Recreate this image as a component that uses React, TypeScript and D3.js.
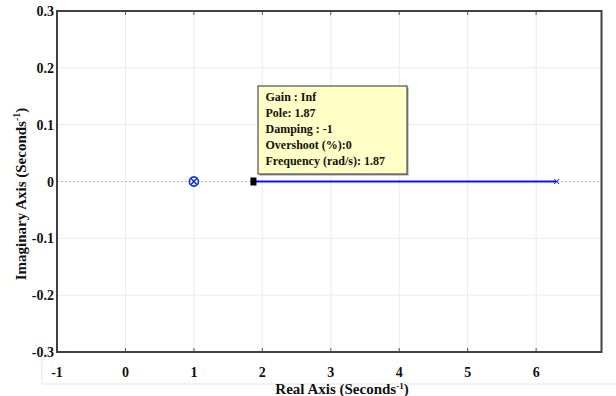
import React from "react";
import * as d3 from "d3";

const xTicks = [-1, 0, 1, 2, 3, 4, 5, 6];
const yTicks = [0.3, 0.2, 0.1, 0, -0.1, -0.2, -0.3];
const locusReal = [1.87, 6.3];
const locusImag = [0, 0];
const poleZeroReal = [1];
const poleReal = [6.3];
const selectedPole = 1.87;
const tipLines = [
  "Gain : Inf",
  "Pole: 1.87",
  "Damping : -1",
  "Overshoot (%):0",
  "Frequency (rad/s): 1.87",
];

const W = 616, H = 396;
const L = 57, R = 601.5, T = 11, B = 352;

export default function App() {
  const x = d3.scaleLinear().domain([-1, 6.955]).range([L, R]);
  const y = d3.scaleLinear().domain([-0.3, 0.3]).range([B, T]);
  const font = "'Liberation Serif', 'Times New Roman', serif";
  const line = d3.line<number>().x((d) => x(d)).y((_, i) => y(locusImag[i]));
  const tx = 258, ty = 86, tw = 149, th = 88;
  return (
    <svg width={W} height={H} style={{ position: "absolute", left: 0, top: 0, background: "#fff" }}>
      <rect x={0} y={0} width={W} height={H} fill="#fff" />
      {/* faint screenshot lines */}
      <line x1={42} x2={42} y1={355} y2={384} stroke="#e4e4e4" />
      <line x1={42} x2={616} y1={384} y2={384} stroke="#e4e4e4" />
      {/* grid */}
      {xTicks.slice(1).map((t) => (
        <line key={"gx" + t} x1={x(t)} x2={x(t)} y1={T} y2={B} stroke="#ebebeb" strokeWidth={1} />
      ))}
      {yTicks.filter((t) => t !== 0.3 && t !== -0.3).map((t) => (
        <line key={"gy" + t} x1={L} x2={R} y1={y(t)} y2={y(t)} stroke={t === 0 ? "#b8b8b8" : "#ebebeb"} strokeWidth={1} strokeDasharray={t === 0 ? "2,2" : undefined} />
      ))}
      {/* ticks */}
      {xTicks.slice(1).map((t) => (
        <g key={"tx" + t}>
          <line x1={x(t)} x2={x(t)} y1={B} y2={B - 4} stroke="#555" />
          <line x1={x(t)} x2={x(t)} y1={T} y2={T + 4} stroke="#555" />
        </g>
      ))}
      {/* locus */}
      <path d={line(locusReal) || ""} fill="none" stroke="#0a14f0" strokeWidth={2.2} />
      {poleReal.map((p) => (
        <g key={"p" + p} stroke="#0a14f0" strokeWidth={1}>
          <line x1={x(p) - 2.5} x2={x(p) + 2.5} y1={y(0) - 2.5} y2={y(0) + 2.5} />
          <line x1={x(p) - 2.5} x2={x(p) + 2.5} y1={y(0) + 2.5} y2={y(0) - 2.5} />
        </g>
      ))}
      {poleZeroReal.map((p) => (
        <g key={"pz" + p} stroke="#1030e0" strokeWidth={1.6} fill="none">
          <circle cx={x(p)} cy={y(0)} r={4.6} />
          <line x1={x(p) - 3.2} x2={x(p) + 3.2} y1={y(0) - 3.2} y2={y(0) + 3.2} />
          <line x1={x(p) - 3.2} x2={x(p) + 3.2} y1={y(0) + 3.2} y2={y(0) - 3.2} />
        </g>
      ))}
      <rect x={x(selectedPole) - 3} y={y(0) - 4} width={6} height={8} fill="#000" />
      {/* frame */}
      <rect x={L} y={T} width={R - L} height={B - T} fill="none" stroke="#404040" strokeWidth={2} />
      {/* tooltip */}
      <rect x={tx + 1.5} y={ty + 1.5} width={tw} height={th} fill="#999" />
      <rect x={tx} y={ty} width={tw} height={th} fill="#ffffc6" stroke="#505050" strokeWidth={1.2} />
      {tipLines.map((s, i) => (
        <text key={s} x={tx + 7.5} y={ty + 15 + i * 15.9} fontFamily={font} fontWeight="bold" fontSize={12} fill="#111">
          {s}
        </text>
      ))}
      {/* tick labels */}
      {xTicks.map((t) => (
        <text key={"lx" + t} x={x(t)} y={377} textAnchor="middle" fontFamily={font} fontWeight="bold" fontSize={14} fill="#111">
          {t}
        </text>
      ))}
      {yTicks.map((t) => (
        <text key={"ly" + t} x={54} y={y(t) + 5} textAnchor="end" fontFamily={font} fontWeight="bold" fontSize={14} fill="#111">
          {t}
        </text>
      ))}
      {/* axis titles */}
      <text x={342} y={394} textAnchor="middle" fontFamily={font} fontWeight="bold" fontSize={15} fill="#111">
        Real Axis (Seconds<tspan dy={-5} fontSize={9}>-1</tspan><tspan dy={5}>)</tspan>
      </text>
      <text transform={`translate(26,194) rotate(-90)`} textAnchor="middle" fontFamily={font} fontWeight="bold" fontSize={15} fill="#111">
        Imaginary Axis (Seconds<tspan dy={-6} fontSize={10}>-1</tspan><tspan dy={6}>)</tspan>
      </text>
    </svg>
  );
}
